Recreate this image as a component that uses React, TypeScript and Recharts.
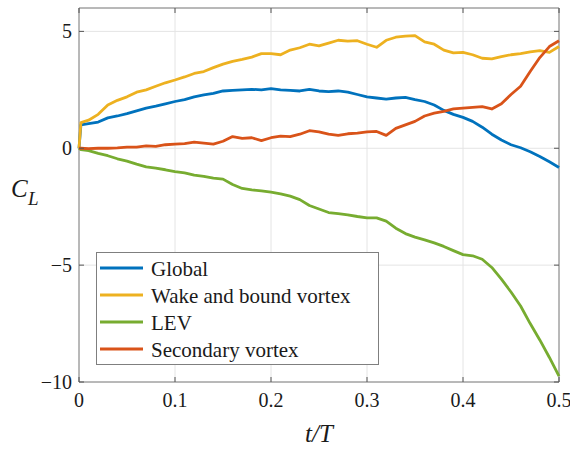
import React from 'react';
import { LineChart, Line, XAxis, YAxis, CartesianGrid, ReferenceArea, Legend } from 'recharts';

// sample times t/T
const T = [
  0, 0.002, 0.01, 0.02, 0.03, 0.04, 0.05, 0.06, 0.07, 0.08, 0.09, 0.1, 0.11, 0.12, 0.13, 0.14, 0.15,
  0.16, 0.17, 0.18, 0.19, 0.2, 0.21, 0.22, 0.23, 0.24, 0.25, 0.26, 0.27, 0.28, 0.29, 0.3, 0.31, 0.32,
  0.33, 0.34, 0.35, 0.36, 0.37, 0.38, 0.39, 0.4, 0.41, 0.42, 0.43, 0.44, 0.45, 0.46, 0.47, 0.48, 0.49, 0.5,
];

const GLOBAL = [
  0, 1.0, 1.05, 1.12, 1.3, 1.38, 1.48, 1.6, 1.72, 1.8, 1.9, 2.0, 2.08, 2.2, 2.28, 2.35, 2.45, 2.48,
  2.5, 2.52, 2.5, 2.55, 2.5, 2.48, 2.45, 2.52, 2.45, 2.42, 2.45, 2.4, 2.3, 2.2, 2.15, 2.1, 2.15, 2.18,
  2.08, 2.0, 1.85, 1.62, 1.45, 1.32, 1.15, 0.9, 0.6, 0.35, 0.15, 0.02, -0.15, -0.35, -0.58, -0.82,
];

const WAKE = [
  0, 1.1, 1.2, 1.45, 1.85, 2.05, 2.2, 2.4, 2.5, 2.65, 2.8, 2.92, 3.05, 3.2, 3.28, 3.45, 3.6, 3.72,
  3.8, 3.9, 4.05, 4.05, 4.0, 4.2, 4.3, 4.45, 4.38, 4.5, 4.62, 4.58, 4.6, 4.45, 4.32, 4.62, 4.75, 4.8,
  4.82, 4.55, 4.45, 4.2, 4.08, 4.1, 4.0, 3.85, 3.82, 3.92, 4.0, 4.05, 4.12, 4.18, 4.1, 4.35,
];

const LEV = [
  0, -0.06, -0.1, -0.22, -0.32, -0.45, -0.55, -0.68, -0.8, -0.85, -0.92, -1.0, -1.05, -1.15, -1.2,
  -1.28, -1.32, -1.55, -1.72, -1.78, -1.82, -1.88, -1.95, -2.05, -2.2, -2.45, -2.6, -2.75, -2.8, -2.85,
  -2.92, -2.98, -2.98, -3.12, -3.42, -3.65, -3.8, -3.92, -4.05, -4.2, -4.38, -4.55, -4.6, -4.75, -5.1,
  -5.6, -6.15, -6.75, -7.5, -8.2, -8.95, -9.75,
];

const SECONDARY = [
  0, 0, -0.02, 0.0, 0.0, 0.02, 0.05, 0.05, 0.1, 0.08, 0.15, 0.18, 0.2, 0.26, 0.22, 0.18, 0.3, 0.5,
  0.42, 0.45, 0.33, 0.45, 0.52, 0.5, 0.6, 0.75, 0.7, 0.6, 0.55, 0.62, 0.65, 0.7, 0.72, 0.55, 0.85,
  1.0, 1.15, 1.38, 1.5, 1.58, 1.68, 1.72, 1.75, 1.78, 1.68, 1.9, 2.3, 2.65, 3.28, 3.88, 4.35, 4.6,
];

const X_TICKS = [0, 0.1, 0.2, 0.3, 0.4, 0.5];
const Y_TICKS = [-10, -5, 0, 5];

const SERIES = [
  { key: 'global', name: 'Global', color: '#0072BD' },
  { key: 'wake', name: 'Wake and bound vortex', color: '#EDB120' },
  { key: 'lev', name: 'LEV', color: '#77AC30' },
  { key: 'secondary', name: 'Secondary vortex', color: '#D95319' },
];

const data = T.map((t, i) => ({
  t,
  global: GLOBAL[i],
  wake: WAKE[i],
  lev: LEV[i],
  secondary: SECONDARY[i],
}));

const W = 570;
const H = 449;
const MARGIN = { top: 8, right: 11, bottom: 0, left: 0 };
const Y_AXIS_W = 79;
const X_AXIS_H = 67;
const PLOT_LEFT = MARGIN.left + Y_AXIS_W;
const PLOT_RIGHT = W - MARGIN.right;
const PLOT_TOP = MARGIN.top;
const PLOT_BOTTOM = H - MARGIN.bottom - X_AXIS_H;

const SERIF = { fontFamily: 'Liberation Serif, Times New Roman, serif' };
const TEXT_COLOR = '#1a1a1a';
const TICK_COLOR = '#555';
const TICK_LEN = 5;

const fmtY = (v: number) => (v < 0 ? `\u2212${Math.abs(v)}` : `${v}`);

// MATLAB-style ticks: pointing inward on both sides of the box
const XTick = ({ x, payload }: any) => (
  <g>
    <line x1={x} x2={x} y1={PLOT_BOTTOM} y2={PLOT_BOTTOM - TICK_LEN} stroke={TICK_COLOR} />
    <line x1={x} x2={x} y1={PLOT_TOP} y2={PLOT_TOP + TICK_LEN} stroke={TICK_COLOR} />
    <text x={x} y={PLOT_BOTTOM + 25} textAnchor="middle" style={SERIF} fontSize={20} fill={TEXT_COLOR}>
      {`${payload.value}`}
    </text>
  </g>
);

const YTick = ({ y, payload }: any) => (
  <g>
    <line x1={PLOT_LEFT} x2={PLOT_LEFT + TICK_LEN} y1={y} y2={y} stroke={TICK_COLOR} />
    <line x1={PLOT_RIGHT} x2={PLOT_RIGHT - TICK_LEN} y1={y} y2={y} stroke={TICK_COLOR} />
    <text x={PLOT_LEFT - 7} y={y + 7} textAnchor="end" style={SERIF} fontSize={20} fill={TEXT_COLOR}>
      {fmtY(payload.value)}
    </text>
  </g>
);

const LEG_W = 283;
const LEG_H = 113;

const renderLegend = () => (
  <svg width={LEG_W} height={LEG_H} style={{ display: 'block' }}>
    <rect x={0.5} y={0.5} width={LEG_W - 1} height={LEG_H - 1} fill="#fff" stroke="#7f7f7f" />
    {SERIES.map((s, i) => {
      const cy = 16 + i * 27;
      return (
        <g key={s.key}>
          <line x1={4} x2={47} y1={cy} y2={cy} stroke={s.color} strokeWidth={3} />
          <text x={55} y={cy + 7.5} style={SERIF} fontSize={21} fill={TEXT_COLOR}>
            {s.name}
          </text>
        </g>
      );
    })}
  </svg>
);

export default function App() {
  return (
    <div style={{ position: 'absolute', left: 0, top: 0, width: W, height: H, background: '#fff' }}>
      <LineChart width={W} height={H} data={data} margin={MARGIN}>
        <CartesianGrid stroke="#e4e4e4" />
        <XAxis
          type="number"
          dataKey="t"
          domain={[0, 0.5]}
          ticks={X_TICKS}
          interval={0}
          height={X_AXIS_H}
          axisLine={false}
          tickLine={false}
          tick={(p: any) => <XTick {...p} />}
        />
        <YAxis
          type="number"
          domain={[-10, 6]}
          ticks={Y_TICKS}
          interval={0}
          width={Y_AXIS_W}
          axisLine={false}
          tickLine={false}
          tick={(p: any) => <YTick {...p} />}
        />
        <ReferenceArea x1={0} x2={0.5} y1={-10} y2={6} fill="none" stroke="#808080" ifOverflow="visible" />
        {SERIES.map((s) => (
          <Line
            key={s.key}
            type="linear"
            dataKey={s.key}
            name={s.name}
            stroke={s.color}
            strokeWidth={2.8}
            strokeLinejoin="round"
            dot={false}
            isAnimationActive={false}
          />
        ))}
        <Legend
          layout="horizontal"
          verticalAlign="middle"
          align="center"
          content={renderLegend}
          wrapperStyle={{ position: 'absolute', left: 96, top: 252, width: LEG_W, height: LEG_H }}
        />
      </LineChart>
      <svg
        width={W}
        height={H}
        style={{ position: 'absolute', left: 0, top: 0, pointerEvents: 'none' }}
      >
        <text x={11} y={197} style={SERIF} fontStyle="italic" fontSize={25} fill={TEXT_COLOR}>
          C
        </text>
        <text x={28} y={205} style={SERIF} fontStyle="italic" fontSize={19} fill={TEXT_COLOR}>
          L
        </text>
        <text
          x={(PLOT_LEFT + PLOT_RIGHT) / 2}
          y={442}
          textAnchor="middle"
          style={SERIF}
          fontStyle="italic"
          fontSize={25}
          fill={TEXT_COLOR}
        >
          t/T
        </text>
      </svg>
    </div>
  );
}
